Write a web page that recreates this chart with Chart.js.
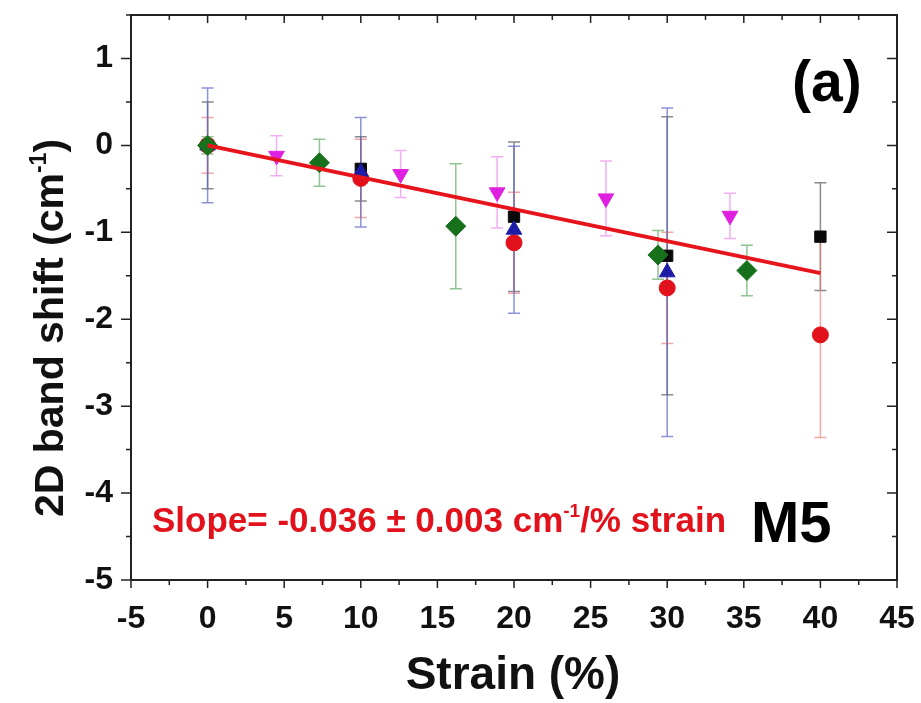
<!DOCTYPE html>
<html>
<head>
<meta charset="utf-8">
<script src="https://cdn.jsdelivr.net/npm/chart.js@4/dist/chart.umd.min.js"></script>
<style>
  html, body { margin: 0; padding: 0; background: #fff; }
  #wrap { width: 921px; height: 703px; position: relative; }
</style>
</head>
<body>
<div id="wrap"><canvas id="c" width="921" height="703"></canvas></div>
<script>
// ---- data ----
const xTickValues = [-5, 0, 5, 10, 15, 20, 25, 30, 35, 40, 45];
const yTickValues = [-5, -4, -3, -2, -1, 0, 1];

const blackStrain = [0, 10, 20, 30, 40];
const blackShift  = [0, -0.27, -0.82, -1.27, -1.05];
const blackErr    = [0.5, 0.37, 0.86, 1.6, 0.62];

const redStrain = [0, 10, 20, 30, 40];
const redShift  = [0, -0.38, -1.12, -1.64, -2.18];
const redErr    = [0.32, 0.45, 0.58, 0.64, 1.18];

const blueStrain = [0, 10, 20, 30];
const blueShift  = [0, -0.31, -0.97, -1.46];
const blueErr    = [0.66, 0.63, 0.96, 1.89];

const greenStrain = [0, 7.3, 16.2, 29.4, 35.2];
const greenShift  = [0, -0.2, -0.93, -1.26, -1.44];
const greenErr    = [0.1, 0.27, 0.72, 0.28, 0.29];

const magentaStrain = [4.5, 12.6, 18.9, 26.0, 34.1];
const magentaShift  = [-0.12, -0.33, -0.54, -0.61, -0.81];
const magentaErr    = [0.23, 0.27, 0.41, 0.43, 0.26];

const fitStrain = [0, 40];
const fitShift  = [0, -1.47];

const slopeText = ['Slope= -0.036 \u00B1 0.003 cm', '-1', '/% strain'];
const yTitleText = ['2D band shift (cm', '-1', ')'];
const xTitleText = 'Strain (%)';
const panelLabel = '(a)';
const sampleLabel = 'M5';

// ---- build datasets ----
function pts(xs, ys) { return xs.map((x, i) => ({ x: x, y: ys[i] })); }
const FONT = '"Liberation Sans", Arial, sans-serif';

const series = [
  { label: 'black', xs: blackStrain, ys: blackShift, err: blackErr, color: '#0a0a0a', errColor: 'rgba(90,90,90,0.7)', style: 'rect', r: 8, rot: 0 },
  { label: 'red', xs: redStrain, ys: redShift, err: redErr, color: '#e2121c', errColor: 'rgba(235,120,120,0.65)', style: 'circle', r: 8, rot: 0 },
  { label: 'blue', xs: blueStrain, ys: blueShift, err: blueErr, color: '#1c1ca6', errColor: 'rgba(90,100,200,0.7)', style: 'triangle', r: 9, rot: 0 },
  { label: 'green', xs: greenStrain, ys: greenShift, err: greenErr, color: '#17711c', errColor: 'rgba(100,170,100,0.7)', style: 'rectRot', r: 10, rot: 0 },
  { label: 'magenta', xs: magentaStrain, ys: magentaShift, err: magentaErr, color: '#e020e0', errColor: 'rgba(235,130,235,0.65)', style: 'triangle', r: 9, rot: 180 }
];

const datasets = series.map((s, i) => ({
  type: 'scatter',
  label: s.label,
  data: pts(s.xs, s.ys),
  pointStyle: s.style,
  pointRadius: s.r,
  pointRotation: s.rot,
  backgroundColor: s.color,
  borderColor: s.color,
  borderWidth: 1,
  order: 10 - i,
  errs: s.err,
  errColor: s.errColor
}));
datasets.push({
  type: 'line',
  label: 'fit',
  data: pts(fitStrain, fitShift),
  borderColor: '#e8141c',
  borderWidth: 4,
  pointRadius: 0,
  fill: false,
  order: 0
});

// ---- plugins ----
const errorBars = {
  id: 'errorBars',
  beforeDatasetsDraw(chart) {
    const ctx = chart.ctx, xs = chart.scales.x, ys = chart.scales.y;
    ctx.save();
    chart.data.datasets.forEach(ds => {
      if (!ds.errs) return;
      ctx.strokeStyle = ds.errColor;
      ctx.lineWidth = 1.5;
      ds.data.forEach((p, i) => {
        const e = ds.errs[i];
        const px = xs.getPixelForValue(p.x);
        const top = ys.getPixelForValue(p.y + e);
        const bot = ys.getPixelForValue(p.y - e);
        ctx.beginPath();
        ctx.moveTo(px, top); ctx.lineTo(px, bot);
        ctx.moveTo(px - 6, top); ctx.lineTo(px + 6, top);
        ctx.moveTo(px - 6, bot); ctx.lineTo(px + 6, bot);
        ctx.stroke();
      });
    });
    ctx.restore();
  }
};

function drawSupText(ctx, parts, x, y, size, color) {
  ctx.fillStyle = color;
  ctx.textBaseline = 'alphabetic';
  ctx.textAlign = 'left';
  ctx.font = 'bold ' + size + 'px ' + FONT;
  ctx.fillText(parts[0], x, y);
  let cx = x + ctx.measureText(parts[0]).width;
  const ss = Math.round(size * 0.55);
  ctx.font = 'bold ' + ss + 'px ' + FONT;
  ctx.fillText(parts[1], cx, y - size * 0.42);
  cx += ctx.measureText(parts[1]).width;
  ctx.font = 'bold ' + size + 'px ' + FONT;
  ctx.fillText(parts[2], cx, y);
}
function measureSupText(ctx, parts, size) {
  ctx.font = 'bold ' + size + 'px ' + FONT;
  let w = ctx.measureText(parts[0]).width + ctx.measureText(parts[2]).width;
  ctx.font = 'bold ' + Math.round(size * 0.55) + 'px ' + FONT;
  return w + ctx.measureText(parts[1]).width;
}

const frame = {
  id: 'frame',
  afterDraw(chart) {
    const ctx = chart.ctx, a = chart.chartArea, xs = chart.scales.x, ys = chart.scales.y;
    ctx.save();
    ctx.strokeStyle = '#222';
    ctx.lineWidth = 2;
    ctx.strokeRect(a.left, a.top, a.right - a.left, a.bottom - a.top);
    ctx.lineWidth = 1.5;
    ctx.beginPath();
    for (let v = -5; v <= 45.001; v += 2.5) {
      const px = xs.getPixelForValue(v);
      const major = Math.abs(v % 5) < 1e-6;
      const L = major ? 8 : 5;
      ctx.moveTo(px, a.bottom); ctx.lineTo(px, a.bottom + L);
      ctx.moveTo(px, a.top); ctx.lineTo(px, a.top + L);
    }
    for (let v = -5; v <= 1.5001; v += 0.5) {
      const py = ys.getPixelForValue(v);
      const major = Math.abs(v - Math.round(v)) < 1e-6;
      const L = major ? 10 : 5;
      ctx.moveTo(a.left, py); ctx.lineTo(a.left - L, py);
      ctx.moveTo(a.right, py); ctx.lineTo(a.right - L, py);
    }
    ctx.stroke();

    // annotations
    drawSupText(ctx, slopeText, 152, 532, 35, '#e2121c');
    ctx.fillStyle = '#000';
    ctx.textAlign = 'left';
    ctx.textBaseline = 'alphabetic';
    ctx.font = 'bold 58px ' + FONT;
    ctx.fillText(sampleLabel, 751, 542);
    ctx.font = 'bold 57px ' + FONT;
    ctx.fillText(panelLabel, 792, 101);

    // axis titles
    ctx.fillStyle = '#111';
    ctx.font = 'bold 46px ' + FONT;
    ctx.textAlign = 'center';
    ctx.fillText(xTitleText, 513, 689);

    const ySize = 41;
    const w = measureSupText(ctx, yTitleText, ySize);
    ctx.translate(63, 328);
    ctx.rotate(-Math.PI / 2);
    drawSupText(ctx, yTitleText, -w / 2, 0, ySize, '#111');
    ctx.restore();
  }
};

function zeroPad(s) { s.paddingLeft = 0; s.paddingRight = 0; s.paddingTop = 0; s.paddingBottom = 0; }

new Chart(document.getElementById('c'), {
  type: 'scatter',
  data: { datasets: datasets },
  options: {
    responsive: false,
    animation: false,
    devicePixelRatio: 1,
    layout: { padding: { top: 15, right: 24, left: 0, bottom: 0 } },
    plugins: { legend: { display: false }, tooltip: { enabled: false } },
    scales: {
      x: {
        type: 'linear', min: -5, max: 45,
        afterBuildTicks: s => { s.ticks = xTickValues.map(v => ({ value: v })); },
        afterFit: s => { s.height = 123; zeroPad(s); },
        grid: { display: false, drawTicks: false, tickLength: 0 },
        border: { display: true, color: '#222', width: 2 },
        ticks: { padding: 20, color: '#111', font: { family: FONT, size: 32, weight: 'bold' }, maxRotation: 0, autoSkip: false }
      },
      y: {
        type: 'linear', min: -5, max: 1.5,
        afterBuildTicks: s => { s.ticks = yTickValues.map(v => ({ value: v })); },
        afterFit: s => { s.width = 131; zeroPad(s); },
        grid: { display: false, drawTicks: false, tickLength: 0 },
        border: { display: true, color: '#222', width: 2 },
        ticks: { padding: 18, color: '#111', font: { family: FONT, size: 32, weight: 'bold' }, autoSkip: false }
      }
    }
  },
  plugins: [errorBars, frame]
});
</script>
</body>
</html>
